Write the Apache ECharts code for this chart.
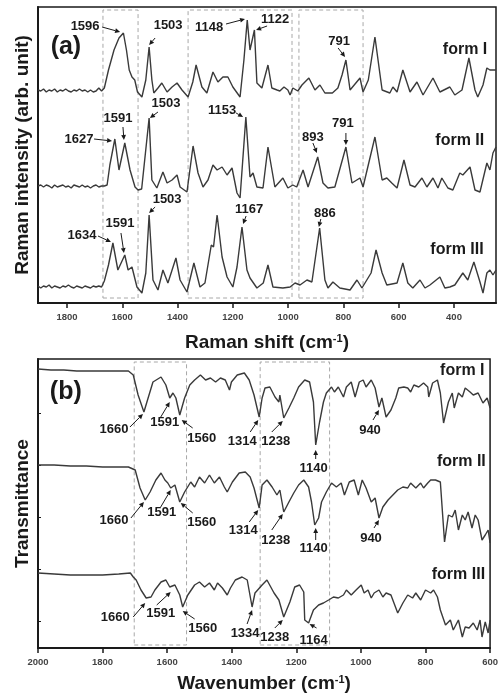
<!DOCTYPE html>
<html>
<head>
<meta charset="utf-8">
<script src="https://cdn.jsdelivr.net/npm/echarts@6/dist/echarts.min.js"></script>
<style>
  html, body { margin: 0; padding: 0; background: #fff; }
  #chart { width: 501px; height: 697px; }
</style>
</head>
<body>
<div id="chart"></div>
<script>
(function () {
  // ---- data: Raman spectra (wavenumber cm-1, intensity arb.) ----
  const ramanTicks = [1800, 1600, 1400, 1200, 1000, 800, 600, 400];
  const ramanFormI = [
    [1905,213],[1895,212],[1885,214],[1875,211],[1865,213],[1855,212],[1845,214],[1835,211],[1825,213],[1815,212],
    [1805,214],[1795,212],[1785,211],[1775,213],[1765,212],[1755,214],[1745,212],[1735,213],[1725,211],[1715,213],
    [1705,211],[1695,212],[1685,215],[1675,212],[1665,215],[1650,233],[1630,253],[1612,265],[1596,270],[1585,253],
    [1575,233],[1565,226],[1555,223],[1545,211],[1529,206],[1515,223],[1503,256],[1493,223],[1486,210],[1471,215],
    [1457,220],[1438,211],[1420,216],[1402,220],[1384,213],[1362,206],[1345,221],[1333,238],[1312,216],[1294,210],
    [1272,231],[1254,221],[1236,226],[1218,226],[1200,216],[1174,206],[1160,243],[1148,283],[1138,253],[1122,273],
    [1113,220],[1095,215],[1073,238],[1059,215],[1040,213],[1030,212],[1015,216],[1001,213],[993,208],[983,215],
    [965,212],[950,218],[925,225],[903,213],[885,218],[867,210],[840,210],[820,215],[805,228],[791,243],
    [776,213],[740,225],[729,211],[710,223],[686,266],[665,223],[660,213],[632,210],[621,216],[606,211],
    [585,233],[559,211],[534,221],[512,208],[476,225],[451,211],[415,216],[397,208],[371,213],[346,245],
    [324,213],[314,206],[295,218],[281,235],[270,233],[259,233],[248,233]
  ];
  const ramanFormII = [
    [1905,117],[1895,118],[1885,116],[1875,118],[1865,117],[1855,115],[1845,118],[1835,116],[1825,117],[1815,118],
    [1805,116],[1795,117],[1785,115],[1775,118],[1765,117],[1755,116],[1745,118],[1735,116],[1725,117],[1715,115],
    [1705,117],[1695,118],[1685,116],[1675,117],[1665,117],[1655,118],[1645,138],[1627,164],[1612,133],[1591,160],
    [1572,133],[1554,116],[1543,113],[1530,114],[1503,185],[1493,123],[1475,115],[1453,131],[1438,120],[1420,123],
    [1402,128],[1391,116],[1366,111],[1344,157],[1326,130],[1308,116],[1290,123],[1272,138],[1257,133],[1239,136],
    [1221,128],[1203,135],[1185,110],[1174,105],[1153,186],[1138,126],[1127,130],[1113,116],[1091,115],[1073,156],
    [1048,116],[1019,125],[1001,115],[983,118],[969,116],[946,133],[928,116],[893,146],[874,120],[856,115],
    [831,116],[791,156],[769,120],[740,125],[729,116],[686,166],[660,123],[643,125],[625,120],[606,115],
    [581,143],[559,118],[541,116],[516,125],[498,116],[476,125],[458,115],[444,125],[422,115],[404,113],
    [379,130],[368,128],[342,136],[324,113],[306,111],[281,140],[270,133],[259,150],[248,156]
  ];
  const ramanFormIII = [
    [1905,17],[1895,15],[1885,17],[1875,16],[1865,18],[1855,15],[1845,17],[1835,16],[1825,15],[1815,17],
    [1805,16],[1795,18],[1785,16],[1775,15],[1765,17],[1755,16],[1745,15],[1735,17],[1725,16],[1715,15],
    [1705,17],[1695,16],[1685,17],[1675,16],[1665,22],[1650,38],[1634,60],[1616,33],[1591,48],[1579,33],
    [1565,36],[1547,16],[1529,10],[1515,30],[1503,88],[1489,23],[1471,13],[1453,33],[1435,20],[1406,45],
    [1391,23],[1366,11],[1341,40],[1319,16],[1301,20],[1278,58],[1270,56],[1257,88],[1239,46],[1221,26],
    [1200,16],[1185,36],[1167,76],[1149,33],[1138,25],[1113,15],[1090,20],[1073,38],[1055,16],[1019,15],
    [993,16],[975,20],[957,18],[932,23],[914,21],[886,75],[867,23],[856,15],[838,21],[813,15],
    [776,13],[751,23],[733,15],[700,30],[682,53],[660,30],[643,18],[606,20],[585,40],[567,20],
    [549,15],[523,23],[505,15],[487,18],[451,26],[433,15],[415,16],[397,18],[368,30],[350,23],
    [328,41],[306,21],[295,10],[281,30],[270,33],[259,28],[248,33]
  ];

  // ---- data: IR spectra (wavenumber cm-1, transmittance arb.) ----
  const irFormI = [
    [2000,279],[1960,278],[1920,278],[1880,277],[1840,277],[1800,277],[1760,277],[1720,277],[1705,273],[1690,253],
    [1672,236],[1659,250],[1644,266],[1619,271],[1604,263],[1592,250],[1582,255],[1573,250],[1561,233],[1546,250],
    [1530,263],[1515,268],[1497,273],[1481,268],[1466,270],[1450,266],[1435,270],[1420,268],[1407,258],[1401,266],
    [1383,273],[1361,275],[1346,268],[1331,253],[1315,231],[1306,250],[1297,260],[1282,261],[1266,251],[1254,246],
    [1251,253],[1239,230],[1223,240],[1208,250],[1193,261],[1174,268],[1159,266],[1147,246],[1140,203],[1128,226],
    [1116,246],[1107,255],[1091,261],[1082,256],[1070,261],[1054,251],[1045,261],[1030,266],[1018,251],[1005,266],
    [993,268],[984,261],[968,268],[956,260],[944,241],[935,250],[922,231],[907,238],[892,250],[883,260],
    [867,261],[855,260],[846,256],[836,263],[821,261],[806,265],[793,261],[790,251],[778,265],[763,268],
    [754,255],[744,225],[729,246],[717,255],[711,240],[698,255],[686,251],[677,260],[662,256],[652,253],
    [637,255],[622,245],[609,250],[600,240]
  ];
  const irFormII = [
    [2000,183],[1950,183],[1900,182],[1850,182],[1800,181],[1750,181],[1720,181],[1699,178],[1684,160],[1668,148],
    [1653,156],[1635,168],[1619,175],[1607,168],[1598,165],[1589,160],[1576,163],[1561,146],[1546,156],[1527,166],
    [1515,161],[1500,171],[1484,165],[1469,173],[1454,165],[1438,171],[1423,161],[1414,156],[1398,166],[1377,175],
    [1358,176],[1343,171],[1331,160],[1315,140],[1306,163],[1291,168],[1275,161],[1260,153],[1251,158],[1239,136],
    [1223,146],[1208,155],[1193,163],[1177,168],[1162,161],[1153,146],[1143,123],[1131,130],[1122,146],[1107,156],
    [1091,165],[1076,161],[1061,165],[1051,153],[1036,166],[1021,168],[1008,153],[996,168],[984,160],[968,146],
    [956,150],[944,130],[932,141],[916,148],[901,153],[886,158],[870,161],[855,160],[846,165],[830,160],
    [815,165],[806,160],[793,165],[784,168],[769,168],[754,166],[741,106],[729,133],[717,131],[708,138],
    [698,118],[686,133],[677,128],[668,136],[656,120],[646,133],[637,128],[625,108],[615,113],[606,118],
    [600,105]
  ];
  const irFormIII = [
    [2000,75],[1950,74],[1900,73],[1850,73],[1800,73],[1750,74],[1714,75],[1705,71],[1696,68],[1681,58],
    [1665,50],[1650,51],[1638,58],[1619,66],[1604,68],[1592,61],[1576,63],[1561,53],[1552,41],[1536,53],
    [1515,63],[1500,66],[1484,61],[1469,65],[1454,58],[1444,65],[1429,60],[1414,53],[1404,60],[1389,68],
    [1368,71],[1352,68],[1337,41],[1328,55],[1306,63],[1291,68],[1269,55],[1254,48],[1239,31],[1220,46],
    [1205,61],[1190,63],[1177,56],[1174,28],[1162,25],[1147,38],[1131,43],[1116,45],[1100,48],[1085,51],
    [1070,50],[1054,53],[1045,58],[1030,53],[1015,58],[999,63],[990,55],[978,58],[968,50],[959,55],
    [944,58],[932,51],[922,55],[907,53],[886,35],[870,45],[855,53],[840,50],[830,55],[815,48],
    [800,58],[784,55],[775,58],[763,51],[754,38],[738,23],[723,28],[714,18],[698,28],[686,11],
    [677,21],[665,20],[652,25],[640,18],[631,28],[625,11],[615,26],[606,15],[600,28]
  ];

  // highlighted regions (wavenumber ranges)
  const ramanBoxes = [[1670, 1543], [1362, 986], [961, 729]];
  const irBoxes = [[1702, 1540], [1312, 1097]];

  // peak labels: text and the point the arrow points at
  const ramanPeakText = ['1596', '1503', '1148', '1122', '791', '1627', '1591', '1503', '1153', '893', '791',
    '1634', '1591', '1503', '1167', '886'];
  const ramanPeakAt = [[1608, 271], [1503, 258], [1156, 284], [1116, 273], [794, 246], [1637, 162], [1594, 163],
    [1500, 185], [1163, 186], [896, 150], [791, 158], [1641, 61], [1594, 50], [1503, 90], [1163, 79], [889, 76]];
  const irPeakText = ['1660', '1591', '1560', '1314', '1238', '1140', '940', '1660', '1591', '1560', '1314',
    '1238', '1140', '940', '1660', '1591', '1560', '1334', '1238', '1164'];
  const irPeakAt = [[1675, 234], [1592, 246], [1555, 228], [1318, 228], [1242, 227], [1140, 198], [944, 238],
    [1672, 146], [1589, 158], [1558, 145], [1318, 138], [1242, 134], [1140, 120], [944, 128], [1668, 45],
    [1589, 56], [1552, 37], [1337, 38], [1242, 28], [1159, 24]];

  const formNames = ['form I', 'form II', 'form III'];
  const ramanFormLabelAt = [[360, 253], [379, 162], [389, 53]];
  const irFormLabelAt = [[686, 277], [689, 186], [698, 73]];

  // layout: label offsets in px [textDx, textDy, tailDx, tailDy] relative to the arrow tip
  const ramanPeakOffset = [[-35, -6, -18, -5], [19, -20, 6, -7], [-36, 8, -19, 5], [19, -11, 11, -4],
    [-6, -16, -7, -9], [-33, -2, -18, -2], [-6, -22, -1, -13], [16, -15, 8, -6], [-21, -7, -7, -4],
    [-4, -16, -4, -10], [-3, -22, 0, -12], [-29, -7, -13, -6], [-4, -30, -3, -20], [18, -14, 6, -6],
    [6, -15, 3, -8], [6, -14, 2, -8]];
  const irPeakOffset = [[-29, 15, -13, 13], [-5, 20, -9, 15], [20, 18, 11, 8], [-16, 21, -8, 12],
    [-7, 20, -11, 11], [-2, 18, 0, 9], [-9, 20, -6, 10], [-30, 18, -13, 16], [-9, 22, -10, 17],
    [21, 19, 12, 10], [-15, 20, -9, 12], [-7, 26, -11, 16], [-2, 20, 0, 12], [-8, 18, -5, 8],
    [-30, 14, -12, 14], [-10, 21, -14, 13], [20, 17, 12, 8], [-7, 23, -5, 14], [-8, 17, -8, 8], [4, 16, 7, 4]];

  const FONT = '"Liberation Sans", Arial, sans-serif';
  const INK = '#1a1a1a';
  const LINE = '#3a3a3a';

  const chart = echarts.init(document.getElementById('chart'), null, { renderer: 'canvas' });

  function boxArea(boxes, yLow, yHigh) {
    return {
      silent: true,
      label: { show: false },
      itemStyle: {
        color: 'rgba(0,0,0,0)',
        borderColor: '#a8a8a8',
        borderWidth: 1,
        borderType: [4, 3],
      },
      data: boxes.map((b) => [{ xAxis: b[0], yAxis: yLow }, { xAxis: b[1], yAxis: yHigh }]),
    };
  }

  function spectrum(data, gridIdx, extra) {
    return Object.assign({
      type: 'line',
      xAxisIndex: gridIdx,
      yAxisIndex: gridIdx,
      data,
      symbol: 'none',
      lineStyle: { color: LINE, width: 1.4 },
      z: 3,
    }, extra || {});
  }

  const axisName = {
    fontFamily: FONT,
    fontSize: 19,
    fontWeight: 'bold',
    color: INK,
    rich: {
      sup: { fontFamily: FONT, fontSize: 11, fontWeight: 'bold', color: INK, verticalAlign: 'top', padding: [0, 0, 8, 0] },
    },
  };
  const tickLabel = {
    fontFamily: FONT, fontSize: 9.5, fontWeight: 'bold', color: '#444',
    formatter: (v) => String(v),
  };
  const frameLine = { show: true, lineStyle: { color: INK, width: 2 } };

  const option = {
    animation: false,
    backgroundColor: '#fff',
    grid: [
      { left: 38, right: 5, top: 7, height: 296, show: true, borderColor: INK, borderWidth: 1.5 },
      { left: 38, right: 6, top: 359, height: 289, show: true, borderColor: INK, borderWidth: 1.5 },
    ],
    xAxis: [
      {
        gridIndex: 0, type: 'value', min: 248, max: 1905, inverse: true,
        axisLine: frameLine,
        axisTick: { show: true, customValues: ramanTicks, length: 5, lineStyle: { color: INK, width: 1.5 } },
        axisLabel: Object.assign({ customValues: ramanTicks, margin: 9 }, tickLabel),
        splitLine: { show: false },
        name: 'Raman shift (cm{sup|-1})', nameLocation: 'middle', nameGap: 30, nameTextStyle: axisName,
      },
      {
        gridIndex: 1, type: 'value', min: 600, max: 2000, interval: 200, inverse: true,
        axisLine: frameLine,
        axisTick: { show: true, length: 5, lineStyle: { color: INK, width: 1.5 } },
        axisLabel: Object.assign({ margin: 9, showMinLabel: true, showMaxLabel: true }, tickLabel),
        splitLine: { show: false },
        name: 'Wavenumber (cm{sup|-1})', nameLocation: 'middle', nameGap: 26, nameTextStyle: axisName,
      },
    ],
    yAxis: [
      {
        gridIndex: 0, type: 'value', min: 0, max: 296,
        axisLine: frameLine, axisTick: { show: false }, axisLabel: { show: false }, splitLine: { show: false },
        name: 'Raman intensity (arb. unit)', nameLocation: 'middle', nameGap: 6, nameTextStyle: axisName,
      },
      {
        gridIndex: 1, type: 'value', min: 0, max: 289,
        axisLine: frameLine,
        axisTick: { show: true, inside: true, length: 3, customValues: [27, 79, 131, 183, 235], lineStyle: { color: INK } },
        axisLabel: { show: false }, splitLine: { show: false },
        name: 'Transmittance', nameLocation: 'middle', nameGap: 6, nameTextStyle: axisName,
      },
    ],
    series: [
      spectrum(ramanFormI, 0, { markArea: boxArea(ramanBoxes, 5, 293) }),
      spectrum(ramanFormII, 0),
      spectrum(ramanFormIII, 0),
      spectrum(irFormI, 1, { markArea: boxArea(irBoxes, 3, 286) }),
      spectrum(irFormII, 1),
      spectrum(irFormIII, 1),
    ],
  };

  chart.setOption(option);

  function textEl(x, y, text, size) {
    return {
      type: 'text', x, y, z: 20, silent: true,
      style: {
        text, fill: INK, font: `bold ${size}px ${FONT}`,
        textAlign: 'center', textVerticalAlign: 'middle', align: 'center', verticalAlign: 'middle',
      },
    };
  }

  function arrowEls(tail, tip) {
    const ang = Math.atan2(tip[1] - tail[1], tip[0] - tail[0]);
    const L = 5;
    const W = 2.4;
    const bx = tip[0] - L * Math.cos(ang);
    const by = tip[1] - L * Math.sin(ang);
    const px = -Math.sin(ang) * W;
    const py = Math.cos(ang) * W;
    return [
      { type: 'line', z: 20, silent: true, shape: { x1: tail[0], y1: tail[1], x2: bx, y2: by }, style: { stroke: INK, lineWidth: 1 } },
      { type: 'polygon', z: 20, silent: true, shape: { points: [tip, [bx + px, by + py], [bx - px, by - py]] }, style: { fill: INK } },
    ];
  }

  function peakNotes(gridIndex, texts, tips, offsets) {
    const out = [];
    texts.forEach((text, i) => {
      const p = chart.convertToPixel({ gridIndex }, tips[i]);
      const o = offsets[i];
      out.push(textEl(p[0] + o[0], p[1] + o[1], text, 13));
      arrowEls([p[0] + o[2], p[1] + o[3]], p).forEach((el) => out.push(el));
    });
    return out;
  }

  function formNotes(gridIndex, at) {
    return formNames.map((name, i) => {
      const p = chart.convertToPixel({ gridIndex }, at[i]);
      return textEl(p[0], p[1], name, 16);
    });
  }

  const tagA = chart.convertToPixel({ gridIndex: 0 }, [1804, 256]);
  const tagB = chart.convertToPixel({ gridIndex: 1 }, [1914, 256]);

  const graphic = []
    .concat(peakNotes(0, ramanPeakText, ramanPeakAt, ramanPeakOffset))
    .concat(peakNotes(1, irPeakText, irPeakAt, irPeakOffset))
    .concat(formNotes(0, ramanFormLabelAt))
    .concat(formNotes(1, irFormLabelAt))
    .concat([textEl(tagA[0], tagA[1], '(a)', 25), textEl(tagB[0], tagB[1], '(b)', 25)]);

  chart.setOption({ graphic });
})();
</script>
</body>
</html>
